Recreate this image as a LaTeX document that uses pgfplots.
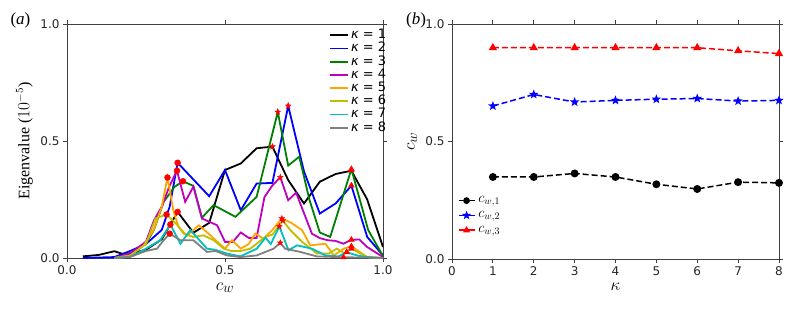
\documentclass[border=0pt]{standalone}
\usepackage{pgfplots}
\pgfplotsset{compat=1.18}
\usepackage{fontspec}
\setmainfont{Liberation Serif}
\newfontfamily\dejavu{DejaVu Sans}
\usetikzlibrary{plotmarks}
\definecolor{mplgreen}{rgb}{0,0.5,0}
\definecolor{mplmag}{rgb}{0.75,0,0.75}
\definecolor{mplorange}{rgb}{1,0.647,0}
\definecolor{mplolive}{rgb}{0.75,0.75,0}
\definecolor{mplcyan}{rgb}{0,0.75,0.75}
\definecolor{mplgray}{rgb}{0.5,0.5,0.5}
\pgfdeclareplotmark{fstar}{%
 \pgfpathmoveto{\pgfpointpolar{90}{\pgfplotmarksize}}%
 \pgfpathlineto{\pgfpointpolar{126}{0.42\pgfplotmarksize}}%
 \pgfpathlineto{\pgfpointpolar{162}{\pgfplotmarksize}}%
 \pgfpathlineto{\pgfpointpolar{198}{0.42\pgfplotmarksize}}%
 \pgfpathlineto{\pgfpointpolar{234}{\pgfplotmarksize}}%
 \pgfpathlineto{\pgfpointpolar{270}{0.42\pgfplotmarksize}}%
 \pgfpathlineto{\pgfpointpolar{306}{\pgfplotmarksize}}%
 \pgfpathlineto{\pgfpointpolar{342}{0.42\pgfplotmarksize}}%
 \pgfpathlineto{\pgfpointpolar{18}{\pgfplotmarksize}}%
 \pgfpathlineto{\pgfpointpolar{54}{0.42\pgfplotmarksize}}%
 \pgfpathclose\pgfusepathqfillstroke}
\pgfplotsset{
  myaxis/.style={
    scale only axis,
    axis line style={black!75, line width=0.8pt},
    tick align=outside,
    major tick length=4pt,
    every tick/.style={black!75, line width=0.8pt},
    tick label style={font=\dejavu\fontsize{12}{14}\selectfont, black!85},
    /pgf/number format/assume math mode=true,
    clip=true,
  },
  cl/.style={line width=1.8pt, no marks},
}
\begin{document}
\begin{tikzpicture}
\useasboundingbox (0,0) rectangle (793pt,309pt);
% ---------------- panel (a)
\begin{axis}[myaxis,
  at={(67pt,51pt)}, anchor=south west,
  width=316pt, height=234pt,
  xmin=0, xmax=1, ymin=0, ymax=1,
  xtick={0,0.5,1}, ytick={0,0.5,1},
  xticklabel style={/pgf/number format/.cd, fixed, fixed zerofill, precision=1},
  yticklabel style={/pgf/number format/.cd, fixed, fixed zerofill, precision=1},
  xlabel={$c_w$},
  xlabel style={font=\fontsize{19}{20}\selectfont, at={(axis description cs:0.5,-0.137)}, anchor=base},
  ylabel={Eigenvalue ($10^{-5}$)},
  ylabel style={font=\fontsize{16}{18}\selectfont, at={(axis description cs:-0.135,0.5)}, anchor=center, rotate=0},
  legend style={at={(0.82,0.985)}, anchor=north west, draw=none, fill=none,
    font=\fontsize{13}{14}\selectfont, row sep=2.2pt,
    nodes={inner ysep=0pt, inner xsep=2pt, text height=9pt, text depth=2pt}},
  legend cell align=left,
  legend image code/.code={\draw[#1] (0pt,0pt) -- (18pt,0pt);},
]
\addplot[cl, black] coordinates {(0.05,0.007)(0.1,0.013)(0.15,0.029)(0.175,0.018)(0.2,0.02)(0.25,0.035)(0.3,0.08)(0.35,0.197)(0.4,0.108)(0.45,0.15)(0.5,0.376)(0.55,0.404)(0.6,0.469)(0.65,0.476)(0.7,0.333)(0.75,0.233)(0.8,0.326)(0.85,0.359)(0.9,0.373)(0.95,0.25)(1.0,0.047)};
\addlegendentry{{\dejavu{\itshape κ} = 1}}
\addplot[cl, blue] coordinates {(0.05,0.0)(0.15,0.004)(0.2,0.03)(0.25,0.06)(0.3,0.12)(0.325,0.22)(0.35,0.407)(0.45,0.264)(0.5,0.376)(0.55,0.204)(0.6,0.318)(0.65,0.321)(0.7,0.65)(0.75,0.37)(0.8,0.19)(0.85,0.233)(0.9,0.309)(0.95,0.09)(1.0,0.011)};
\addlegendentry{{\dejavu{\itshape κ} = 2}}
\addplot[cl, mplgreen] coordinates {(0.15,0.0)(0.2,0.02)(0.25,0.06)(0.275,0.12)(0.306,0.24)(0.34,0.304)(0.367,0.328)(0.4,0.308)(0.427,0.172)(0.464,0.226)(0.533,0.176)(0.6,0.261)(0.667,0.624)(0.7,0.395)(0.735,0.433)(0.767,0.25)(0.8,0.109)(0.833,0.09)(0.9,0.38)(0.953,0.12)(1.0,0.008)};
\addlegendentry{{\dejavu{\itshape κ} = 3}}
\addplot[cl, mplmag] coordinates {(0.15,0.0)(0.2,0.02)(0.25,0.07)(0.275,0.16)(0.3,0.22)(0.325,0.31)(0.348,0.373)(0.374,0.24)(0.4,0.305)(0.427,0.169)(0.45,0.155)(0.475,0.14)(0.5,0.069)(0.525,0.069)(0.55,0.109)(0.575,0.086)(0.6,0.086)(0.625,0.261)(0.65,0.31)(0.675,0.345)(0.7,0.247)(0.725,0.279)(0.775,0.104)(0.8,0.085)(0.825,0.076)(0.85,0.073)(0.875,0.061)(0.9,0.078)(0.925,0.079)(0.95,0.047)(1.0,0.004)};
\addlegendentry{{\dejavu{\itshape κ} = 4}}
\addplot[cl, mplorange] coordinates {(0.15,0.0)(0.2,0.01)(0.243,0.054)(0.274,0.119)(0.3,0.22)(0.318,0.344)(0.337,0.2)(0.353,0.133)(0.38,0.095)(0.417,0.14)(0.448,0.104)(0.475,0.07)(0.5,0.04)(0.522,0.076)(0.55,0.04)(0.575,0.06)(0.596,0.104)(0.622,0.083)(0.65,0.12)(0.68,0.169)(0.71,0.15)(0.744,0.119)(0.77,0.054)(0.818,0.061)(0.844,0.011)(0.876,0.04)(0.9,0.05)(0.95,0.004)(1.0,0.0)};
\addlegendentry{{\dejavu{\itshape κ} = 5}}
\addplot[cl, mplolive] coordinates {(0.15,0.0)(0.2,0.01)(0.25,0.06)(0.28,0.169)(0.315,0.186)(0.335,0.16)(0.35,0.14)(0.369,0.104)(0.4,0.09)(0.432,0.097)(0.464,0.076)(0.496,0.04)(0.52,0.03)(0.55,0.03)(0.58,0.04)(0.628,0.09)(0.65,0.1)(0.683,0.16)(0.707,0.119)(0.744,0.069)(0.791,0.019)(0.828,0.019)(0.854,0.04)(0.878,0.02)(0.9,0.04)(0.95,0.004)(1.0,0.0)};
\addlegendentry{{\dejavu{\itshape κ} = 6}}
\addplot[cl, mplcyan] coordinates {(0.15,0.0)(0.2,0.005)(0.25,0.04)(0.295,0.076)(0.327,0.143)(0.359,0.061)(0.39,0.119)(0.41,0.09)(0.443,0.04)(0.47,0.035)(0.506,0.019)(0.549,0.007)(0.601,0.04)(0.628,0.087)(0.645,0.06)(0.672,0.135)(0.701,0.033)(0.728,0.054)(0.775,0.04)(0.818,0.011)(0.86,0.007)(0.885,0.025)(0.92,0.01)(0.95,0.004)(1.0,0.0)};
\addlegendentry{{\dejavu{\itshape κ} = 7}}
\addplot[cl, mplgray] coordinates {(0.15,0.0)(0.2,0.005)(0.25,0.03)(0.285,0.04)(0.306,0.076)(0.325,0.104)(0.359,0.076)(0.4,0.076)(0.443,0.026)(0.47,0.03)(0.506,0.011)(0.549,0.004)(0.6,0.011)(0.654,0.04)(0.675,0.065)(0.69,0.04)(0.738,0.026)(0.79,0.007)(0.875,0.003)(0.95,0.002)(1.0,0.0)};
\addlegendentry{{\dejavu{\itshape κ} = 8}}
% red markers at c_w,1 (circles), c_w,2 (stars), c_w,3 (triangles)
\addplot[only marks, mark=*, mark size=3pt, red, forget plot] coordinates {(0.35,0.197)(0.35,0.407)(0.367,0.328)(0.348,0.373)(0.318,0.344)(0.315,0.186)(0.327,0.143)(0.325,0.104)};
\addplot[only marks, mark=fstar, mark size=3pt, red, forget plot] coordinates {(0.65,0.476)(0.7,0.65)(0.667,0.624)(0.675,0.345)(0.68,0.169)(0.683,0.16)(0.672,0.135)(0.675,0.065)};
\addplot[only marks, mark=triangle*, mark size=3.3pt, red, forget plot] coordinates {(0.9,0.375)(0.9,0.31)(0.9,0.38)(0.9,0.078)(0.9,0.05)(0.9,0.04)(0.885,0.025)(0.875,0.003)};
\end{axis}
% ---------------- panel (b)
\begin{axis}[myaxis,
  at={(452pt,50pt)}, anchor=south west,
  width=327pt, height=235pt,
  xmin=0, xmax=8, ymin=0, ymax=1,
  xtick={0,1,...,8}, ytick={0,0.5,1},
  yticklabel style={/pgf/number format/.cd, fixed, fixed zerofill, precision=1},
  xlabel={$\kappa$},
  xlabel style={font=\fontsize{19}{20}\selectfont, at={(axis description cs:0.5,-0.135)}, anchor=base},
  ylabel={$c_w$},
  ylabel style={font=\fontsize{19}{20}\selectfont, at={(axis description cs:-0.122,0.5)}, anchor=center},
  legend style={at={(0.008,0.285)}, anchor=north west, draw=none, fill=none,
    font=\fontsize{14}{15}\selectfont, row sep=2pt,
    nodes={inner ysep=0pt, inner xsep=3pt, text height=8.5pt, text depth=4.3pt}},
  legend cell align=left,
  legend image code/.code={\draw[#1, solid] (0pt,0pt) -- (16pt,0pt); \draw[#1, only marks, mark size=2.6pt] plot coordinates {(8pt,0pt)};},
]
\addplot[black, line width=1.5pt, dash pattern=on 6pt off 3pt, mark=*, mark size=3.2pt, mark options={solid}] coordinates {(1,0.349)(2,0.349)(3,0.364)(4,0.349)(5,0.318)(6,0.298)(7,0.327)(8,0.324)};
\addlegendentry{$c_{w,1}$}
\addplot[blue, line width=1.5pt, dash pattern=on 6pt off 3pt, mark=fstar, mark size=2.8pt, mark options={solid}] coordinates {(1,0.651)(2,0.700)(3,0.668)(4,0.675)(5,0.680)(6,0.683)(7,0.672)(8,0.675)};
\addlegendentry{$c_{w,2}$}
\addplot[red, line width=1.5pt, dash pattern=on 6pt off 3pt, mark=triangle*, mark size=3.3pt, mark options={solid}] coordinates {(1,0.899)(2,0.899)(3,0.899)(4,0.899)(5,0.899)(6,0.899)(7,0.886)(8,0.874)};
\addlegendentry{$c_{w,3}$}
\end{axis}
\node[font=\fontsize{17}{18}\selectfont, anchor=center] at (20.5pt,289pt) {(\textit{a})};
\node[font=\fontsize{17}{18}\selectfont, anchor=center] at (416pt,289pt) {(\textit{b})};
\end{tikzpicture}
\end{document}
